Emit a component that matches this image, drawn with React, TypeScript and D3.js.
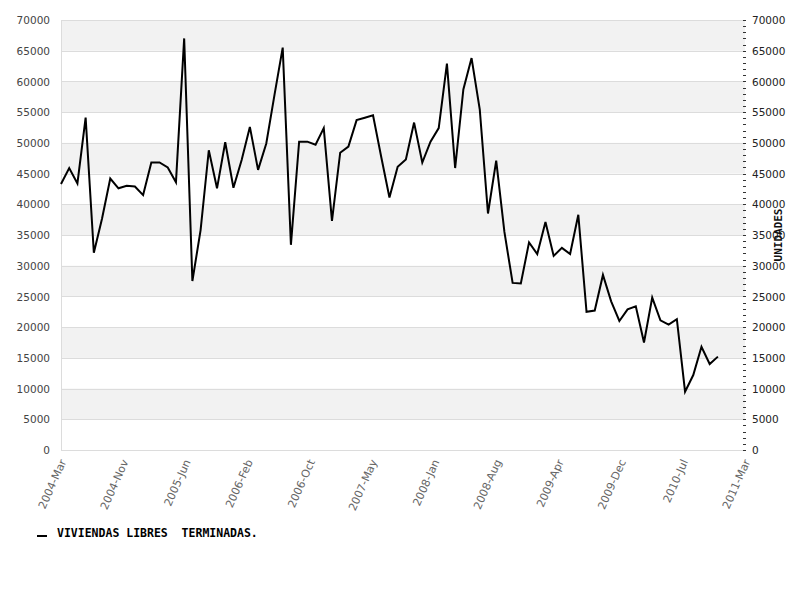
import React from "react";
import * as d3 from "d3";

const values: number[] = [
  43300, 45900, 43400, 54100, 32100, 37700, 44200, 42600, 43000, 42900,
  41500, 46800, 46800, 46000, 43600, 67000, 27500, 35800, 48800, 42600,
  50100, 42700, 47200, 52600, 45600, 49900, 57800, 65500, 33400, 50200,
  50200, 49700, 52400, 37300, 48400, 49400, 53700, 54100, 54500, 47700,
  41100, 46100, 47300, 53300, 46800, 50200, 52400, 62900, 45900, 58700,
  63800, 55400, 38500, 47100, 35500, 27200, 27100, 33800, 31900, 37100,
  31600, 32900, 31900, 38300, 22500, 22700, 28500, 24200, 21000, 22900,
  23400, 17500, 24800, 21100, 20400, 21300, 9500, 12200, 16800, 14000,
  15200,
];

const xTickLabels: string[] = [
  "2004-Mar", "2004-Nov", "2005-Jun", "2006-Feb", "2006-Oct", "2007-May",
  "2008-Jan", "2008-Aug", "2009-Apr", "2009-Dec", "2010-Jul", "2011-Mar",
];

const yTicks: number[] = d3.range(0, 70001, 5000);
const yMinorTicks: number[] = d3.range(0, 70001, 1000);

const seriesName = "VIVIENDAS LIBRES  TERMINADAS.";
const axisTitle = "UNIDADES";

export default function App() {
  const W = 800;
  const H = 600;
  const left = 61;
  const right = 745;
  const top = 20;
  const bottom = 450;

  const x = d3.scaleLinear().domain([0, 83.3]).range([left, right]);
  const y = d3.scaleLinear().domain([0, 70000]).range([bottom, top]);
  const xTicks = d3.scalePoint<string>().domain(xTickLabels).range([left, right]);

  const line = d3
    .line<number>()
    .x((_, i) => x(i))
    .y((d) => y(d));

  const bands = yTicks.slice(0, -1).filter((_, k) => k % 2 === 1);

  return (
    <svg
      width={W}
      height={H}
      style={{ position: "absolute", left: 0, top: 0, background: "#fff" }}
      fontFamily="DejaVu Sans, sans-serif"
    >
      {bands.map((v) => (
        <rect
          key={"b" + v}
          x={left}
          y={y(v + 5000)}
          width={right - left}
          height={y(v) - y(v + 5000)}
          fill="#f2f2f2"
        />
      ))}
      {yTicks.map((v) => (
        <line
          key={"g" + v}
          x1={left}
          x2={right}
          y1={Math.round(y(v)) + 0.5}
          y2={Math.round(y(v)) + 0.5}
          stroke="#dcdcdc"
          strokeWidth={1}
        />
      ))}
      <line x1={left + 0.5} x2={left + 0.5} y1={top} y2={bottom} stroke="#dcdcdc" />
      {yMinorTicks.map((v) => (
        <line
          key={"m" + v}
          x1={right - 2}
          x2={right + 1}
          y1={Math.round(y(v)) + 0.5}
          y2={Math.round(y(v)) + 0.5}
          stroke="#333"
          strokeWidth={1}
        />
      ))}
      {yTicks.map((v) => (
        <text
          key={"l" + v}
          x={50}
          y={y(v)}
          dy="0.4em"
          textAnchor="end"
          fontSize={10.5}
          fill="#444"
        >
          {v}
        </text>
      ))}
      {yTicks.map((v) => (
        <text
          key={"r" + v}
          x={752}
          y={y(v)}
          dy="0.4em"
          textAnchor="start"
          fontSize={10.5}
          fill="#222"
        >
          {v}
        </text>
      ))}
      <text
        transform={`translate(782, ${(top + bottom) / 2}) rotate(-90)`}
        textAnchor="middle"
        fontFamily="DejaVu Sans Mono, monospace"
        fontWeight="bold"
        fontSize={11}
        fill="#111"
      >
        {axisTitle}
      </text>
      {xTickLabels.map((lab) => (
        <text
          key={"x" + lab}
          transform={`translate(${(xTicks(lab) as number) + 2}, ${bottom + 10}) rotate(-66)`}
          textAnchor="end"
          dy="0.35em"
          fontSize={11}
          fill="#666"
        >
          {lab}
        </text>
      ))}
      <path d={line(values) || ""} fill="none" stroke="#000" strokeWidth={2} strokeLinejoin="miter" />
      <line x1={37} x2={47} y1={536} y2={536} stroke="#000" strokeWidth={2} />
      <text
        x={57}
        y={537}
        fontFamily="DejaVu Sans Mono, monospace"
        fontWeight="bold"
        fontSize={11.5}
        fill="#000"
        style={{ whiteSpace: "pre" }}
      >
        {seriesName}
      </text>
    </svg>
  );
}
